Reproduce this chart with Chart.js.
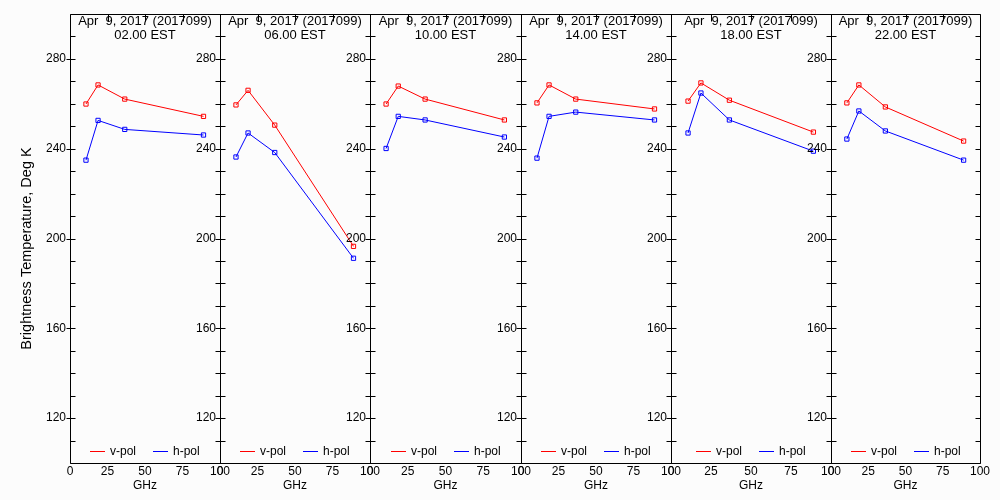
<!DOCTYPE html>
<html>
<head>
<meta charset="utf-8">
<script src="https://cdn.jsdelivr.net/npm/chart.js@4.4.0/dist/chart.umd.min.js"></script>
<style>
html,body{margin:0;padding:0;background:#fcfcfc;}
#wrap{position:relative;width:1000px;height:500px;overflow:hidden;}
#wrap canvas{position:absolute;left:0;top:0;}
</style>
</head>
<body>
<div id="wrap"></div>
<script>
// ---- data ----
const freqsGHz = [10.65, 18.7, 36.5, 89.0];
const dateLabel = 'Apr  9, 2017 (2017099)';
const timeLabels = ['02.00 EST', '06.00 EST', '10.00 EST', '14.00 EST', '18.00 EST', '22.00 EST'];
const vpol0200 = [259.9, 268.4, 262.1, 254.4];
const hpol0200 = [234.9, 252.6, 248.6, 246.1];
const vpol0600 = [259.5, 266.0, 250.5, 196.5];
const hpol0600 = [236.3, 247.0, 238.3, 191.2];
const vpol1000 = [259.9, 267.9, 262.1, 252.8];
const hpol1000 = [240.1, 254.4, 252.8, 245.2];
const vpol1400 = [260.4, 268.4, 262.1, 257.7];
const hpol1400 = [235.8, 254.4, 256.3, 252.8];
const vpol1800 = [261.2, 269.3, 261.6, 247.4];
const hpol1800 = [247.0, 264.8, 252.8, 238.9];
const vpol2200 = [260.4, 268.4, 258.6, 243.4];
const hpol2200 = [244.3, 256.8, 247.9, 234.9];
const vpolAll = [vpol0200, vpol0600, vpol1000, vpol1400, vpol1800, vpol2200];
const hpolAll = [hpol0200, hpol0600, hpol1000, hpol1400, hpol1800, hpol2200];
const xTickLabels = [0, 25, 50, 75, 100];
const yTickLabels = [120, 160, 200, 240, 280];
const seriesNames = ['v-pol', 'h-pol'];
const seriesColors = ['#ff0000', '#0000ff'];
const yTitle = 'Brightness Temperature, Deg K';
const xTitle = 'GHz';

// ---- layout ----
const W = 1000, H = 500;
const panelLeft  = [70, 220, 370, 521, 671, 831];
const panelRight = [220, 370, 521, 671, 831, 980];
const plotTop = 14, xAxisH = 37, yAxisW = 51;
const FONT = '"Liberation Sans", Arial, sans-serif';

const decoPlugin = {
  id: 'panelDeco',
  afterDraw(chart, args, opts) {
    const {ctx, chartArea: a, scales: {x, y}} = chart;
    const k = opts.index;
    const L = Math.round(a.left) + 0.5, R = Math.round(a.right) + 0.5;
    const T = Math.round(a.top) + 0.5, B = Math.round(a.bottom) + 0.5;
    ctx.save();
    ctx.strokeStyle = '#000000';
    ctx.lineWidth = 1;
    ctx.beginPath();
    ctx.moveTo(L, T); ctx.lineTo(R, T); ctx.lineTo(R, B); ctx.lineTo(L, B); ctx.closePath();
    for (let v = y.min; v <= y.max; v += 10) {
      const py = Math.round(y.getPixelForValue(v)) + 0.5;
      ctx.moveTo(L, py); ctx.lineTo(L + 5, py);
      ctx.moveTo(R, py); ctx.lineTo(R - 5, py);
      if (yTickLabels.includes(v)) { ctx.moveTo(L - 4, py); ctx.lineTo(L, py); }
    }
    for (const v of xTickLabels) {
      if (v === x.min || v === x.max) continue;
      const px = Math.round(x.getPixelForValue(v)) + 0.5;
      ctx.moveTo(px, T); ctx.lineTo(px, T + 7);
    }
    ctx.stroke();
    ctx.restore();

    ctx.save();
    const cx = (a.left + a.right) / 2;
    ctx.fillStyle = '#000000';
    ctx.font = '13px ' + FONT;
    ctx.textAlign = 'center';
    ctx.textBaseline = 'alphabetic';
    ctx.fillText(dateLabel, cx, a.top + 11);
    ctx.fillText(timeLabels[k], cx, a.top + 24.5);
    ctx.restore();

    // legend inside plot
    ctx.save();
    ctx.font = '12px ' + FONT;
    const names = chart.data.datasets.map(d => d.label);
    const lineLen = 15, gap = 5, sep = 17;
    const widths = names.map(n => ctx.measureText(n).width);
    let total = 0;
    names.forEach((n, i) => { total += lineLen + gap + widths[i] + (i < names.length - 1 ? sep : 0); });
    let lx = Math.round(cx - total / 2);
    const ly = Math.round(a.bottom - 12);
    ctx.textAlign = 'left';
    ctx.textBaseline = 'middle';
    names.forEach((n, i) => {
      ctx.fillStyle = seriesColors[i];
      ctx.fillRect(lx, ly, lineLen, 1);
      lx += lineLen + gap;
      ctx.fillStyle = '#000000';
      ctx.fillText(n, lx, ly + 0.5);
      lx = Math.round(lx + widths[i] + sep);
    });
    ctx.restore();

    if (k === 0) {
      ctx.save();
      ctx.translate(27, 248.5);
      ctx.rotate(-Math.PI / 2);
      ctx.font = '14.5px ' + FONT;
      ctx.textAlign = 'center';
      ctx.textBaseline = 'middle';
      ctx.fillStyle = '#000000';
      ctx.fillText(yTitle, 0, 0);
      ctx.restore();
    }
  }
};

function mkDataset(name, values, color) {
  return {
    label: name,
    data: freqsGHz.map((f, i) => ({x: f, y: values[i]})),
    borderColor: color,
    borderWidth: 1,
    pointStyle: 'rect',
    pointRadius: 3,
    pointBorderWidth: 1,
    pointBorderColor: color,
    pointBackgroundColor: 'rgba(0,0,0,0)',
    tension: 0,
    fill: false
  };
}

const wrap = document.getElementById('wrap');
for (let k = 0; k < 6; k++) {
  const cv = document.createElement('canvas');
  cv.width = W; cv.height = H;
  cv.style.width = W + 'px'; cv.style.height = H + 'px';
  wrap.appendChild(cv);
  new Chart(cv.getContext('2d'), {
    type: 'line',
    data: {
      datasets: [
        mkDataset(seriesNames[0], vpolAll[k], seriesColors[0]),
        mkDataset(seriesNames[1], hpolAll[k], seriesColors[1])
      ]
    },
    options: {
      responsive: false,
      animation: false,
      devicePixelRatio: 1,
      layout: {padding: {left: panelLeft[k] - yAxisW, right: W - panelRight[k], top: plotTop, bottom: 0}},
      plugins: {
        legend: {display: false},
        tooltip: {enabled: false},
        title: {display: false},
        panelDeco: {index: k}
      },
      scales: {
        x: {
          type: 'linear', position: 'bottom', min: 0, max: 100,
          grid: {display: false, drawTicks: false},
          border: {display: false},
          ticks: {
            stepSize: 25, autoSkip: false, maxRotation: 0, padding: 1,
            color: '#000', font: {family: FONT, size: 12},
            callback: v => xTickLabels.includes(v) ? String(v) : ''
          },
          title: {display: true, text: xTitle, color: '#000', font: {family: FONT, size: 12}, padding: {top: 0, bottom: 7}},
          afterFit: s => { s.height = xAxisH; }
        },
        y: {
          type: 'linear', position: 'left', min: 100, max: 300,
          grid: {display: false, drawTicks: false},
          border: {display: false},
          ticks: {
            stepSize: 10, autoSkip: false, padding: 4,
            color: '#000', font: {family: FONT, size: 12},
            callback: v => yTickLabels.includes(v) ? String(v) : ''
          },
          afterFit: s => { s.width = yAxisW; }
        }
      }
    },
    plugins: [decoPlugin]
  });
}
</script>
</body>
</html>
